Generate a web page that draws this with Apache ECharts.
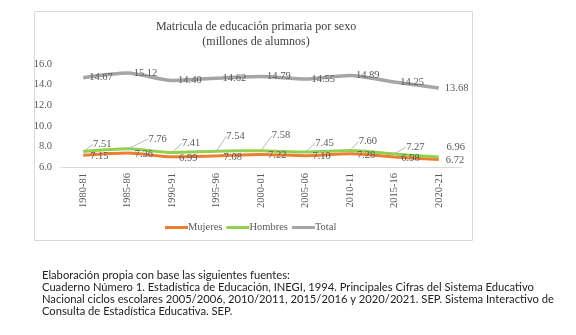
<!DOCTYPE html>
<html>
<head>
<meta charset="utf-8">
<script src="https://cdn.jsdelivr.net/npm/echarts@6/dist/echarts.min.js"></script>
<style>
html,body{margin:0;padding:0;background:#fff;}
#c{width:576px;height:335px;}
</style>
</head>
<body>
<div id="c"></div>
<script>
var categories = ['1980-81','1985-86','1990-91','1995-96','2000-01','2005-06','2010-11','2015-16','2020-21'];
var mujeres = [7.15, 7.36, 6.99, 7.08, 7.22, 7.10, 7.28, 6.98, 6.72];
var hombres = [7.51, 7.76, 7.41, 7.54, 7.58, 7.45, 7.60, 7.27, 6.96];
var total = [14.67, 15.12, 14.40, 14.62, 14.79, 14.55, 14.89, 14.25, 13.68];
var yTicks = [6, 8, 10, 12, 14, 16];
var titleLines = ['Matricula de educación primaria por sexo', '(millones de alumnos)'];
var sourceLines = [
  'Elaboración propia con base las siguientes fuentes:',
  'Cuaderno Número 1. Estadística de Educación, INEGI, 1994. Principales Cifras del Sistema Educativo',
  'Nacional ciclos escolares 2005/2006, 2010/2011, 2015/2016 y 2020/2021. SEP. Sistema Interactivo de',
  'Consulta de Estadística Educativa. SEP.'
];
// label displacement for "Hombres" labels (pixels, relative to point)
var hombresLabelShift = [[19,-7],[30,-10],[19,-9],[19,-15],[20,-15],[19,-9],[18,-9],[21,-7],[17,-10]];
var hombresLeader = [true, true, true, true, true, true, true, true, false];

var serif = 'Liberation Serif';
var txt = '#595959';
var chart = echarts.init(document.getElementById('c'), null, {renderer:'canvas'});
var fmt2 = function(p){ return p.value.toFixed(2); };

var hombresData = hombres.map(function(v, i){
  return {value: v, labelLine: {show: hombresLeader[i]}};
});

chart.setOption({
  animation: false,
  backgroundColor: '#fff',
  title: {
    text: titleLines.join('\n'),
    left: 251, top: 14, textAlign: 'center',
    textStyle: {fontFamily: serif, fontSize: 12, fontWeight: 'normal', color: '#404040', lineHeight: 15}
  },
  legend: {
    data: ['Mujeres','Hombres','Total'],
    left: 160, top: 217,
    itemWidth: 23, itemHeight: 3, itemGap: 4, icon: 'rect',
    textStyle: {fontFamily: serif, fontSize: 10.5, color: txt, padding:[0,0,0,-5]}
  },
  grid: {left: 61, width: 400, top: 64, height: 103},
  xAxis: {
    type: 'category', data: categories, boundaryGap: true,
    axisLine: {lineStyle: {color: '#d9d9d9', width: 1}},
    axisTick: {show: false},
    axisLabel: {rotate: 90, margin: 6, fontFamily: serif, fontSize: 10.5, color: txt}
  },
  yAxis: {
    type: 'value', min: yTicks[0], max: yTicks[yTicks.length-1], interval: 2,
    axisLine: {show: false}, axisTick: {show: false},
    splitLine: {show: false},
    axisLabel: {margin: 9, fontFamily: serif, fontSize: 10.5, color: txt,
      formatter: function(v){return v.toFixed(1);}}
  },
  series: [
    {
      name: 'Mujeres', type: 'line', data: mujeres, smooth: 0.25,
      symbol: 'circle', symbolSize: 0, showSymbol: true,
      lineStyle: {color: '#ED7D31', width: 3}, itemStyle: {color: '#ED7D31'},
      label: {show: true, position: 'right', distance: 7, formatter: fmt2,
        fontFamily: serif, fontSize: 10.5, color: txt, offset:[0,1]}
    },
    {
      name: 'Hombres', type: 'line', data: hombresData, smooth: 0.25,
      symbol: 'circle', symbolSize: 0, showSymbol: true,
      lineStyle: {color: '#92D050', width: 3}, itemStyle: {color: '#92D050'},
      label: {show: true, position: 'inside', formatter: fmt2,
        fontFamily: serif, fontSize: 10.5, color: txt},
      labelLine: {show: true, lineStyle: {color: '#a6a6a6', width: 0.8}},
      labelLayout: function(p){
        var s = hombresLabelShift[p.dataIndex];
        return {dx: s[0], dy: s[1]};
      }
    },
    {
      name: 'Total', type: 'line', data: total, smooth: 0.25,
      symbol: 'circle', symbolSize: 0, showSymbol: true,
      lineStyle: {color: '#A5A5A5', width: 3.5}, itemStyle: {color: '#A5A5A5'},
      label: {show: true, position: 'right', distance: 6, formatter: fmt2,
        fontFamily: serif, fontSize: 10.5, color: txt}
    }
  ],
  graphic: [
    {type: 'rect', left: 32, top: 9, z: -1, silent: true,
     shape: {width: 438, height: 229}, style: {fill: 'none', stroke: '#d9d9d9', lineWidth: 1}},
    {type: 'text', left: 42, top: 269, silent: true,
     style: {text: sourceLines.join('\n'), font: '11.2px Lato', fill: '#222', lineHeight: 12}}
  ]
});
</script>
</body>
</html>
